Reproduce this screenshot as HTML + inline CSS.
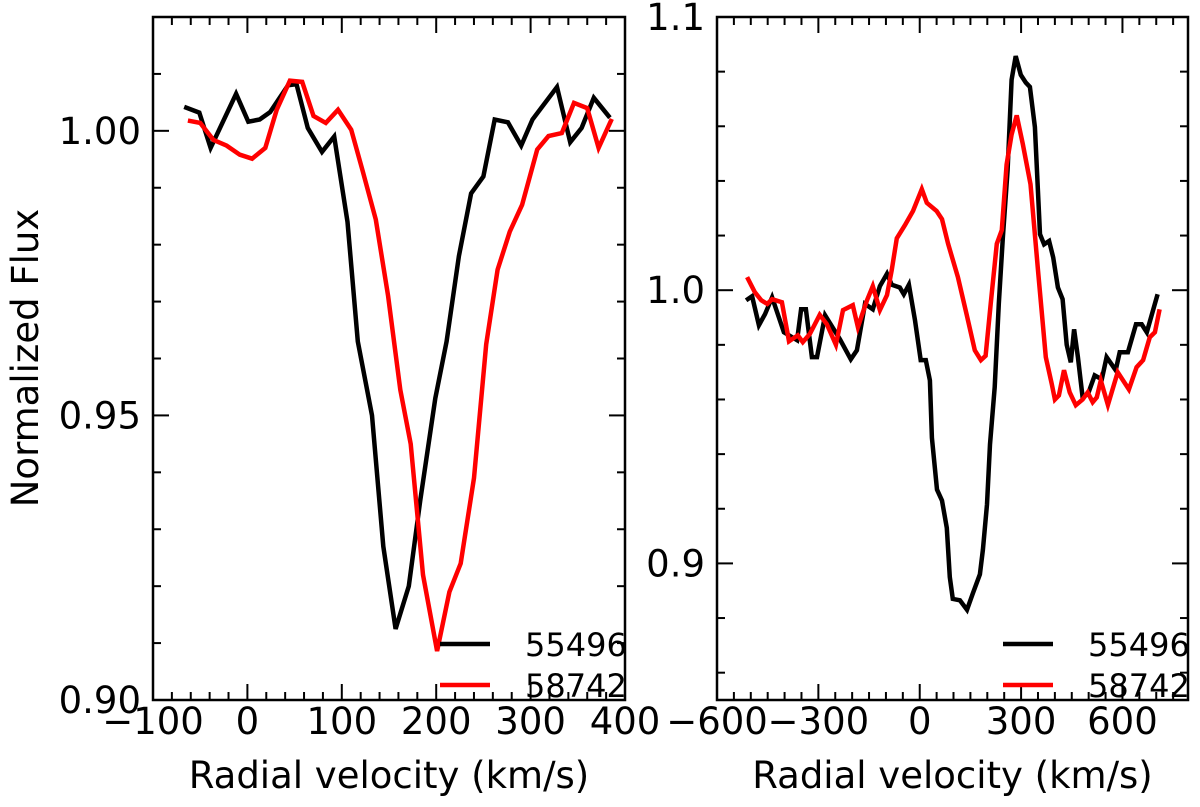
<!DOCTYPE html>
<html><head><meta charset="utf-8"><style>
html,body{margin:0;padding:0;background:#fff;}
svg{display:block;font-family:"DejaVu Sans","Liberation Sans",sans-serif;}
</style></head><body>
<svg id="chart" width="1200" height="807" viewBox="0 0 1200 807"></svg>
<script>
const leftV55496=[-67,-51,-39,-12,1,13,24,43,52,64,79,92,106,117,132,144,157,171,183,199,211,224,237,250,262,276,290,302,328,342,354,367,384];
const leftF55496=[1.0042,1.0032,0.997,1.0065,1.0016,1.002,1.0033,1.008,1.0082,1.0005,0.9963,0.999,0.984,0.963,0.950,0.927,0.9125,0.920,0.935,0.953,0.963,0.978,0.989,0.992,1.002,1.0015,0.9974,1.002,1.0077,0.998,1.0005,1.0058,1.0023];
const leftV58742=[-63,-50,-36,-22,-8,5,19,31,45,58,70,83,96,110,122,136,149,162,173,186,201,214,226,240,253,265,278,291,307,319,333,346,360,372,386];
const leftF58742=[1.0018,1.0014,0.9984,0.9974,0.9958,0.9951,0.997,1.0037,1.0088,1.0086,1.0026,1.0014,1.0037,1.0002,0.993,0.9844,0.971,0.9545,0.945,0.922,0.9086,0.919,0.924,0.939,0.9625,0.9756,0.9823,0.987,0.9967,0.9991,0.9996,1.0049,1.004,0.997,1.0021];
const rightV55496=[-514,-496,-476,-458,-437,-402,-363,-351,-337,-319,-304,-280,-236,-204,-186,-162,-139,-118,-97,-83,-59,-47,-32,-14,3,18,30,36,51,66,80,89,98,119,140,157,178,187,199,208,222,234,246,260,272,284,299,314,326,341,356,368,383,395,409,423,435,447,457,468,482,498,518,539,553,580,592,616,640,657,672,704];
const rightF55496=[0.9963,0.9978,0.9872,0.9912,0.9974,0.9846,0.9817,0.993,0.993,0.9755,0.9755,0.9908,0.982,0.9747,0.978,0.995,0.993,1.0015,1.006,1.002,1.001,0.9985,1.002,0.989,0.9744,0.9744,0.967,0.946,0.927,0.923,0.913,0.895,0.887,0.8865,0.883,0.889,0.896,0.905,0.9216,0.9436,0.9645,0.995,1.019,1.044,1.077,1.0857,1.0788,1.076,1.0744,1.0597,1.0205,1.0168,1.018,1.012,1.001,0.9967,0.980,0.9736,0.9857,0.9755,0.9608,0.962,0.9688,0.9674,0.9755,0.9707,0.9773,0.9773,0.9875,0.9875,0.9846,0.9985];
const rightV58742=[-511,-488,-469,-451,-437,-408,-387,-361,-346,-325,-296,-275,-248,-227,-198,-183,-156,-139,-118,-97,-83,-68,-44,-20,6,21,50,66,84,113,139,163,181,195,210,228,243,257,272,287,305,328,350,373,391,400,412,427,444,462,482,497,512,524,536,557,586,619,642,661,681,696,710];
const rightF58742=[1.0048,0.9993,0.9963,0.995,0.9967,0.9956,0.9813,0.9835,0.981,0.984,0.991,0.9876,0.98,0.9927,0.9945,0.9865,0.9963,1.0015,0.9927,0.9982,1.0073,1.019,1.0238,1.029,1.037,1.032,1.029,1.026,1.017,1.0048,0.991,0.978,0.9744,0.976,0.995,1.017,1.022,1.046,1.057,1.064,1.0535,1.0388,1.0073,0.9755,0.9656,0.960,0.9615,0.9707,0.9626,0.9579,0.960,0.9626,0.959,0.9608,0.967,0.958,0.970,0.9637,0.9718,0.9744,0.9828,0.9846,0.993];
const leftXTicks=[-100,0,100,200,300,400];
const leftYTicks=[0.90,0.95,1.00];
const rightXTicks=[-600,-300,0,300,600];
const rightYTicks=[0.9,1.0,1.1];
const legendLabels=["55496","58742"];

const NS="http://www.w3.org/2000/svg";
const svg=document.getElementById('chart');
function mk(tag,attrs,parent){const e=document.createElementNS(NS,tag);for(const k in attrs)e.setAttribute(k,attrs[k]);(parent||svg).appendChild(e);return e;}

function panel(cfg){
  const g=mk('g',{});
  
  
  const sx=v=>cfg.x0+(v-cfg.xmin)/(cfg.xmax-cfg.xmin)*(cfg.x1-cfg.x0);
  const sy=v=>cfg.y1-(v-cfg.ymin)/(cfg.ymax-cfg.ymin)*(cfg.y1-cfg.y0);
  for(let v=Math.ceil(cfg.xmin/cfg.xminor)*cfg.xminor; v<=cfg.xmax+1e-9; v+=cfg.xminor){
    const major=Math.abs(v/cfg.xmajor-Math.round(v/cfg.xmajor))<1e-6;
    const L=major?16:8;const x=sx(v);
    const t=mk('line',{x1:x,x2:x,y1:cfg.y1,y2:cfg.y1-L,stroke:'#000','stroke-width':2},g);
    
    const t2=mk('line',{x1:x,x2:x,y1:cfg.y0,y2:cfg.y0+L,stroke:'#000','stroke-width':2},g);
    
  }
  for(let i=Math.ceil((cfg.ymin-1e-9)/cfg.yminor); i*cfg.yminor<=cfg.ymax+1e-9; i++){
    const v=i*cfg.yminor;
    const major=Math.abs(v/cfg.ymajor-Math.round(v/cfg.ymajor))<1e-6;
    const L=major?16:8;const y=sy(v);
    const t=mk('line',{x1:cfg.x0,x2:cfg.x0+L,y1:y,y2:y,stroke:'#000','stroke-width':2},g);
    
    const t2=mk('line',{x1:cfg.x1,x2:cfg.x1-L,y1:y,y2:y,stroke:'#000','stroke-width':2},g);
    
  }
  cfg.xticks.forEach(v=>{
    const t=mk('text',{x:sx(v),y:734,'text-anchor':'middle','font-size':37},g);
    t.textContent=(v<0?'\u2212'+Math.abs(v):String(v));
    
  });
  cfg.yticks.forEach(v=>{
    const t=mk('text',{x:cfg.x0-12,y:sy(v)+13,'text-anchor':'end','font-size':37},g);
    t.textContent=v.toFixed(cfg.ydec);
    
  });
  const series=[[cfg.v1,cfg.f1,'#000','series-55496'],[cfg.v2,cfg.f2,'#f00','series-58742']];
  series.forEach(s=>{
    const d=s[0].map((v,i)=>(i?'L':'M')+sx(v).toFixed(1)+','+sy(s[1][i]).toFixed(1)).join(' ');
    const p=mk('path',{d:d,fill:'none',stroke:s[2],'stroke-width':4.5,'stroke-linejoin':'miter'},g);
    
  });
  const box=mk('rect',{x:cfg.x0,y:cfg.y0,width:cfg.x1-cfg.x0,height:cfg.y1-cfg.y0,fill:'none',stroke:'#000','stroke-width':2.5},g);
  
  const lg=mk('g',{},g);
  
  [['#000',644],['#f00',685]].forEach((c,i)=>{
    const ln=mk('line',{x1:cfg.lx,x2:cfg.lx+50,y1:c[1],y2:c[1],stroke:c[0],'stroke-width':4.5},lg);
    
    const t=mk('text',{x:cfg.lx+85,y:c[1]+12,'font-size':32},lg);
    t.textContent=legendLabels[i];
    
  });
  const xl=mk('text',{x:(cfg.x0+cfg.x1)/2,y:788,'text-anchor':'middle','font-size':37},g);
  xl.textContent='Radial velocity (km/s)';
  
}

panel({name:'left-panel',x0:153,x1:625,y0:17,y1:700,xmin:-100,xmax:400,ymin:0.90,ymax:1.02,
  xminor:20,xmajor:100,yminor:0.01,ymajor:0.05,xticks:leftXTicks,yticks:leftYTicks,ydec:2,
  v1:leftV55496,f1:leftF55496,v2:leftV58742,f2:leftF58742,lx:440});
panel({name:'right-panel',x0:717,x1:1188,y0:17,y1:700,xmin:-600,xmax:794,ymin:0.85,ymax:1.1,
  xminor:50,xmajor:300,yminor:0.02,ymajor:0.1,xticks:rightXTicks,yticks:rightYTicks,ydec:1,
  v1:rightV55496,f1:rightF55496,v2:rightV58742,f2:rightF58742,lx:1003});

const yl=mk('text',{x:0,y:0,'text-anchor':'middle','font-size':37,transform:'translate(38,358) rotate(-90)'});
yl.textContent='Normalized Flux';


</script>
</body></html>
